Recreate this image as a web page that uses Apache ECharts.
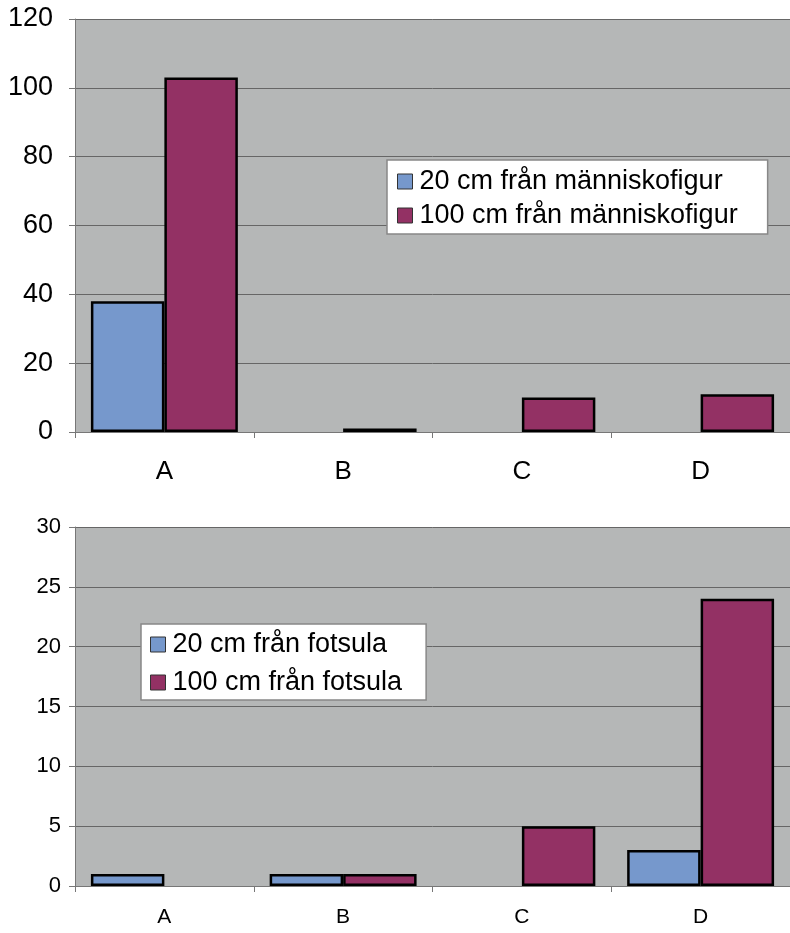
<!DOCTYPE html>
<html><head><meta charset="utf-8">
<script src="https://cdn.jsdelivr.net/npm/echarts@6/dist/echarts.min.js"></script>
<style>html,body{margin:0;padding:0;background:#fff}#c{width:790px;height:933px}</style>
</head><body><div id="c"></div>
<script>
const categories = ['A', 'B', 'C', 'D'];
const topNames = ['20 cm från människofigur', '100 cm från människofigur'];
const top20 = [38, 0, 0, 0];
const top100 = [103, 1, 10, 11];
const bottomNames = ['20 cm från fotsula', '100 cm från fotsula'];
const bot20 = [1, 1, 0, 3];
const bot100 = [0, 1, 5, 24];
const topTicks = [0, 20, 40, 60, 80, 100, 120];
const botTicks = [0, 5, 10, 15, 20, 25, 30];

const BLUE = '#7698cc', RED = '#933164', BG = '#b5b7b7';
const font = 'Liberation Sans, Arial, sans-serif';
const nz = a => a.map(v => v === 0 ? '-' : v);

const chart = echarts.init(document.getElementById('c'));
function xAx(gi, fs, margin) {
  return {type: 'category', gridIndex: gi, data: categories,
    axisLine: {lineStyle: {color: '#777', width: 1}},
    axisTick: {show: true, length: 6, lineStyle: {color: '#777'}},
    axisLabel: {color: '#000', fontSize: fs, fontFamily: font, margin: margin}};
}
function yAx(gi, ticks, fs, margin) {
  return {type: 'value', gridIndex: gi, min: ticks[0], max: ticks[ticks.length-1],
    interval: ticks[1]-ticks[0],
    axisLine: {show: true, lineStyle: {color: '#777', width: 1}},
    axisTick: {show: true, length: 6, lineStyle: {color: '#777'}},
    splitLine: {lineStyle: {color: '#666', width: 1}},
    axisLabel: {color: '#000', fontSize: fs, fontFamily: font, margin: margin}};
}
function bar(name, data, color, gi) {
  return {type: 'bar', name: name, data: nz(data), xAxisIndex: gi, yAxisIndex: gi,
    barGap: '0%', barCategoryGap: '17.8%',
    itemStyle: {color: color, borderColor: '#000', borderWidth: 2.5}};
}
function legend(names, left, top, gap, pad) {
  return {data: names, orient: 'vertical', left: left, top: top, icon: 'rect',
    itemWidth: 15, itemHeight: 15, itemGap: gap, padding: pad,
    backgroundColor: '#fff', borderColor: '#888', borderWidth: 1.5,
    textStyle: {fontSize: 27, lineHeight: 27, fontFamily: font, color: '#000', padding: [0, 0, 0, 2]},
    itemStyle: {borderColor: '#333', borderWidth: 1}};
}
chart.setOption({
  animation: false,
  grid: [
    {left: 75, top: 19, width: 720, height: 413, show: true, backgroundColor: BG, borderWidth: 0},
    {left: 75, top: 527, width: 720, height: 359, show: true, backgroundColor: BG, borderWidth: 0}
  ],
  xAxis: [xAx(0, 26, 27), xAx(1, 21, 21)],
  yAxis: [yAx(0, topTicks, 27, 22), yAx(1, botTicks, 22, 14)],
  legend: [
    legend(topNames, 387, 160, 7, [8, 30, 5, 10]),
    legend(bottomNames, 141, 624, 11, [7, 24, 4, 9])
  ],
  series: [
    bar(topNames[0], top20, BLUE, 0),
    bar(topNames[1], top100, RED, 0),
    bar(bottomNames[0], bot20, BLUE, 1),
    bar(bottomNames[1], bot100, RED, 1)
  ]
});
</script></body></html>
